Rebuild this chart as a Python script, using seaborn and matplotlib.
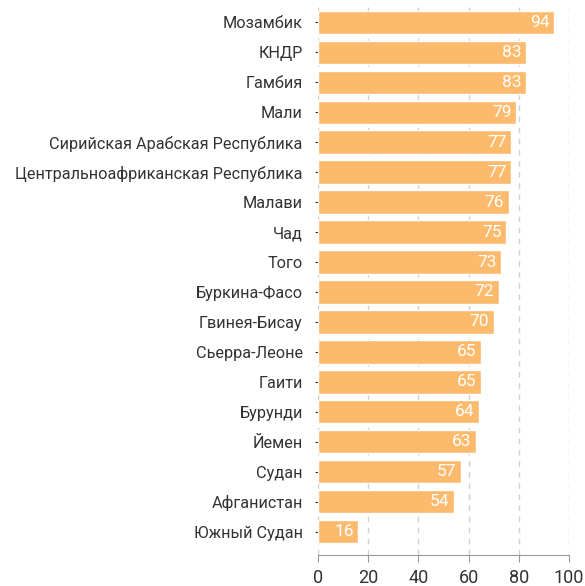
import matplotlib
matplotlib.use("Agg")
import matplotlib.pyplot as plt
import seaborn as sns
import pandas as pd

countries = [
    "Мозамбик", "КНДР", "Гамбия", "Мали", "Сирийская Арабская Республика",
    "Центральноафриканская Республика", "Малави", "Чад", "Того",
    "Буркина-Фасо", "Гвинея-Бисау", "Сьерра-Леоне", "Гаити", "Бурунди",
    "Йемен", "Судан", "Афганистан", "Южный Судан",
]
values = [94, 83, 83, 79, 77, 77, 76, 75, 73, 72, 70, 65, 65, 64, 63, 57, 54, 16]

BAR_COLOR = "#FCBA6D"
TEXT_COLOR = "#333333"

sns.set_style("white")
plt.rcParams["font.family"] = ["Roboto", "DejaVu Sans"]

df = pd.DataFrame({"country": countries, "value": values})

fig = plt.figure(figsize=(5.85, 5.86), dpi=100)
ax = fig.add_axes([0.5436, 0.0529, 0.429, 0.935])

sns.barplot(data=df, x="value", y="country", color=BAR_COLOR,
            saturation=1, width=0.77, ax=ax, zorder=2)

# white value labels at the bar ends
for i, v in enumerate(values):
    ax.text(v - 1.8, i, str(v), ha="right", va="center",
            color="white", fontsize=12.5, zorder=3)

ax.set_xlim(0, 100)
ax.set_ylim(len(countries) - 0.5 + 0.27, -0.5)
ax.set_xticks([0, 20, 40, 60, 80, 100])
ax.xaxis.grid(True, linestyle=(0, (4, 4)), color="#d0d0d0", linewidth=1, zorder=0)
ax.yaxis.grid(False)
ax.set_xlabel("")
ax.set_ylabel("")

for side in ["top", "right", "left"]:
    ax.spines[side].set_visible(False)
ax.spines["bottom"].set_color("#999999")
ax.tick_params(axis="x", bottom=True, length=5, color="#999999",
               labelsize=13, labelcolor=TEXT_COLOR, pad=5)
ax.tick_params(axis="y", left=True, length=2, color="#333333", width=0.8,
               labelsize=11.7, labelcolor=TEXT_COLOR, pad=9)

fig.savefig("out.png", dpi=100)
